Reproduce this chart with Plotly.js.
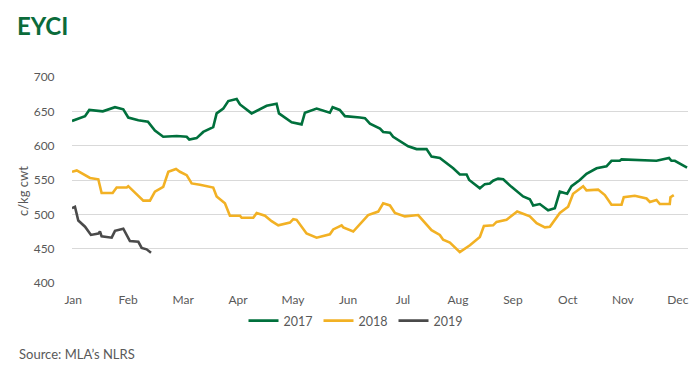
<!DOCTYPE html>
<html>
<head>
<meta charset="utf-8">
<script src="https://cdn.plot.ly/plotly-3.0.1.min.js"></script>
<style>html,body{margin:0;padding:0;background:#fff;}#chart{width:700px;height:373px;}</style>
</head>
<body>
<div id="chart"></div>
<script>
// x positions in week units (0 = start of Jan)
var weeks2017 = [0,1.1,1.46,2.6,3.63,4.33,4.75,5.6,6.41,7.0,7.7,8.84,9.68,9.9,10.52,11.08,11.92,12.21,12.77,13.19,13.9,14.18,15.16,16.43,17.27,17.47,18.54,19.38,19.66,20.65,21.77,22.0,22.6,23.04,24.3,24.73,25.15,26.0,26.27,26.84,27.11,28.38,29.09,29.93,30.35,31.05,32.18,32.74,33.31,33.53,34.43,34.85,35.27,35.55,35.97,36.4,37.1,38.08,38.65,38.93,39.49,40.19,40.76,41.18,41.8,42.17,42.87,43.43,44.28,45.12,45.54,46.24,46.39,48.5,49.34,50.4,50.6,50.89,51.45,51.92];
var eyci2017 = [636,643,652,650,656,653,641,637,635,622,613,614,613,609,611,620,627,647,654,665,668,660,647,658,661,647,634,631,648,654,648,656,652,643,641,640,632,625,620,619,613,599,595,595,584,582,567,558,558,550,538,544,545,549,552,551,540,526,522,513,515,506,509,533,530,541,550,559,567,570,578,578,580,578,578,582,578,578,572,568];

var weeks2018 = [0,0.4,1.52,2.22,2.5,3.43,3.77,4.62,4.75,5.6,6.02,6.58,7.0,7.7,8.13,8.78,9.11,9.68,10.1,10.8,11.92,12.21,12.91,13.33,14.18,14.32,15.3,15.59,16.29,16.85,17.41,18.4,18.68,18.96,19.8,20.65,21.77,22.05,22.76,22.9,23.74,25.0,25.85,26.27,26.84,27.26,28.1,29.22,30.07,30.35,31.05,31.33,31.9,32.74,33.59,34.43,34.77,35.55,35.84,36.68,37.58,38.65,39.22,39.92,40.34,41.18,41.88,42.3,43.15,43.43,44.41,44.98,45.54,46.39,46.58,47.51,48.5,48.78,49.34,49.62,50.46,50.52,50.8];
var eyci2018 = [562,564,553,551,531,531,539,539,541,526,520,520,533,540,562,566,562,557,545,543,539,526,516,498,498,495,495,502,498,490,484,488,493,492,472,466,471,478,484,481,475,499,504,516,513,502,497,499,482,477,470,463,459,445,455,467,483,484,489,492,504,497,487,481,482,502,511,530,541,535,536,528,514,514,525,527,523,518,521,515,515,525,528];

var weeks2019 = [0,0.25,0.53,1.1,1.6,2.22,2.36,2.5,3.35,3.63,4.33,4.89,5.6,5.88,6.3,6.67];
var eyci2019 = [509,511,491,482,470,472,475,468,466,476,479,461,460,451,449,444];

var monthLabels = ["Jan","Feb","Mar","Apr","May","Jun","Jul","Aug","Sep","Oct","Nov","Dec"];
var monthPos = [0.1,4.74,9.38,14.02,18.66,23.3,27.94,32.58,37.22,41.86,46.5,51.14];
var yTicks = [400,450,500,550,600,650,700];

var FONT = "Lato, 'Open Sans', sans-serif";
var GREY = "#595959";

var traces = [
  {x: weeks2017, y: eyci2017, name: "2017", type: "scatter", mode: "lines", line: {color: "#00703c", width: 2.6}},
  {x: weeks2018, y: eyci2018, name: "2018", type: "scatter", mode: "lines", line: {color: "#f2b124", width: 2.6}},
  {x: weeks2019, y: eyci2019, name: "2019", type: "scatter", mode: "lines", line: {color: "#4a4a4a", width: 2.6}}
];

var layout = {
  width: 700, height: 373,
  margin: {l: 72, r: 12, t: 77, b: 90},
  paper_bgcolor: "#fff", plot_bgcolor: "#fff",
  font: {family: FONT, color: GREY, size: 12},
  showlegend: true,
  title: {text: "<b>EYCI</b>", font: {family: FONT, size: 24, color: "#0b6b3a"}, xref: "container", yref: "container", x: 17/700, xanchor: "left", y: 1 - 27/373, yanchor: "middle"},
  xaxis: {
    range: [0, 52], tickmode: "array", tickvals: monthPos, ticktext: monthLabels,
    showgrid: false, zeroline: false, showline: false,
    ticks: "outside", ticklen: 6, tickcolor: "rgba(0,0,0,0)",
    tickfont: {size: 12, color: GREY}, fixedrange: true
  },
  yaxis: {
    range: [400, 700], tickmode: "array", tickvals: yTicks,
    showgrid: true, gridcolor: "#d9d9d9", gridwidth: 1, zeroline: false, showline: false,
    ticks: "outside", ticklen: 14, tickcolor: "rgba(0,0,0,0)",
    tickfont: {size: 12, color: GREY}
  },
  legend: {orientation: "h", x: (356-72)/616, xanchor: "center", y: (283-321)/206, yanchor: "middle", font: {size: 12.5, color: GREY}, entrywidth: 30, entrywidthmode: "pixels", tracegroupgap: 0},
  annotations: [
    {text: "c/kg cwt", xref: "paper", yref: "paper", x: (23-72)/616, y: (283-191)/206, xanchor: "center", yanchor: "middle", textangle: -90, showarrow: false, font: {size: 13, color: GREY, family: FONT}},
    {text: "Source: MLA’s NLRS", xref: "paper", yref: "paper", x: (17-72)/616, y: (283-354)/206, xanchor: "left", yanchor: "middle", showarrow: false, font: {size: 13, color: GREY, family: FONT}}
  ]
};

Plotly.newPlot("chart", traces, layout, {displayModeBar: false, staticPlot: true});
</script>
</body>
</html>
